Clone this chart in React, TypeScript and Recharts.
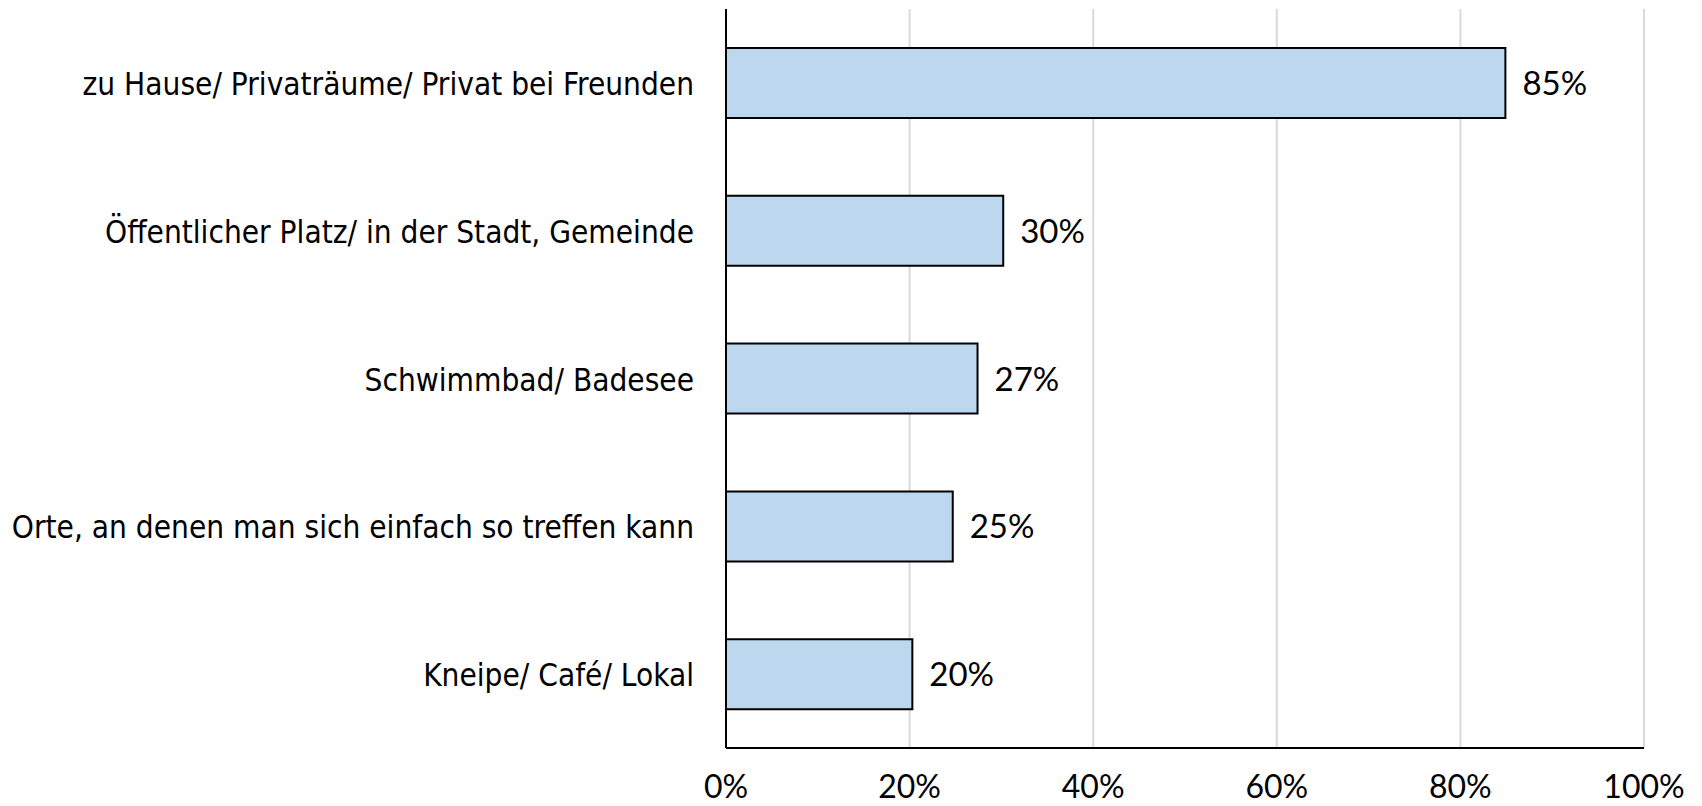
import React from "react";
import { BarChart, Bar, XAxis, YAxis, CartesianGrid, LabelList } from "recharts";

const categories = [
  "zu Hause/ Privaträume/ Privat bei Freunden",
  "Öffentlicher Platz/ in der Stadt, Gemeinde",
  "Schwimmbad/ Badesee",
  "Orte, an denen man sich einfach so treffen kann",
  "Kneipe/ Café/ Lokal",
];
const values = [84.9, 30.2, 27.4, 24.7, 20.3];
const valueLabels = ["85%", "30%", "27%", "25%", "20%"];
const xTicks = [0, 20, 40, 60, 80, 100];

const data = categories.map((name, i) => ({ name, value: values[i], label: valueLabels[i] }));

const CAT_FONT = "'DejaVu Sans Condensed', 'DejaVu Sans', sans-serif";
const NUM_FONT = "Lato, 'Open Sans', sans-serif";

const CatTick = (props: any) => {
  const { x, y, payload } = props;
  return (
    <text x={x - 32} y={y} dy={12} textAnchor="end" fontFamily={CAT_FONT} fontSize={31.3} fill="#000">
      {payload.value}
    </text>
  );
};

const NumTick = (props: any) => {
  const { x, y, payload } = props;
  return (
    <text x={x} y={y} dy={50} textAnchor="middle" fontFamily={NUM_FONT} fontSize={32} fill="#000">
      {payload.value + "%"}
    </text>
  );
};

const ValueLabel = (props: any) => {
  const { x, y, width, height, index } = props;
  return (
    <text
      x={Number(x) + Number(width) + 17}
      y={Number(y) + Number(height) / 2}
      dy={12}
      textAnchor="start"
      fontFamily={NUM_FONT}
      fontSize={33}
      fill="#000"
    >
      {valueLabels[index]}
    </text>
  );
};

export default function App() {
  return (
    <div style={{ position: "absolute", left: 0, top: 0, background: "#fff" }}>
      <BarChart
        width={1702}
        height={806}
        data={data}
        layout="vertical"
        margin={{ top: 9, right: 58, left: 0, bottom: 0 }}
      >
        <CartesianGrid horizontal={false} vertical={true} stroke="#d9d9d9" strokeWidth={2} />
        <XAxis
          type="number"
          domain={[0, 100]}
          ticks={xTicks}
          height={58}
          tickLine={false}
          tickSize={0}
          tickMargin={0}
          axisLine={{ stroke: "#000", strokeWidth: 2 }}
          tick={<NumTick />}
          interval={0}
        />
        <YAxis
          type="category"
          dataKey="name"
          width={726}
          tickLine={false}
          tickSize={0}
          tickMargin={0}
          axisLine={{ stroke: "#000", strokeWidth: 2 }}
          tick={<CatTick />}
          interval={0}
        />
        <Bar dataKey="value" fill="#BDD7EE" stroke="#000" strokeWidth={2} barSize={70} isAnimationActive={false}>
          <LabelList dataKey="value" content={<ValueLabel />} />
        </Bar>
      </BarChart>
    </div>
  );
}
